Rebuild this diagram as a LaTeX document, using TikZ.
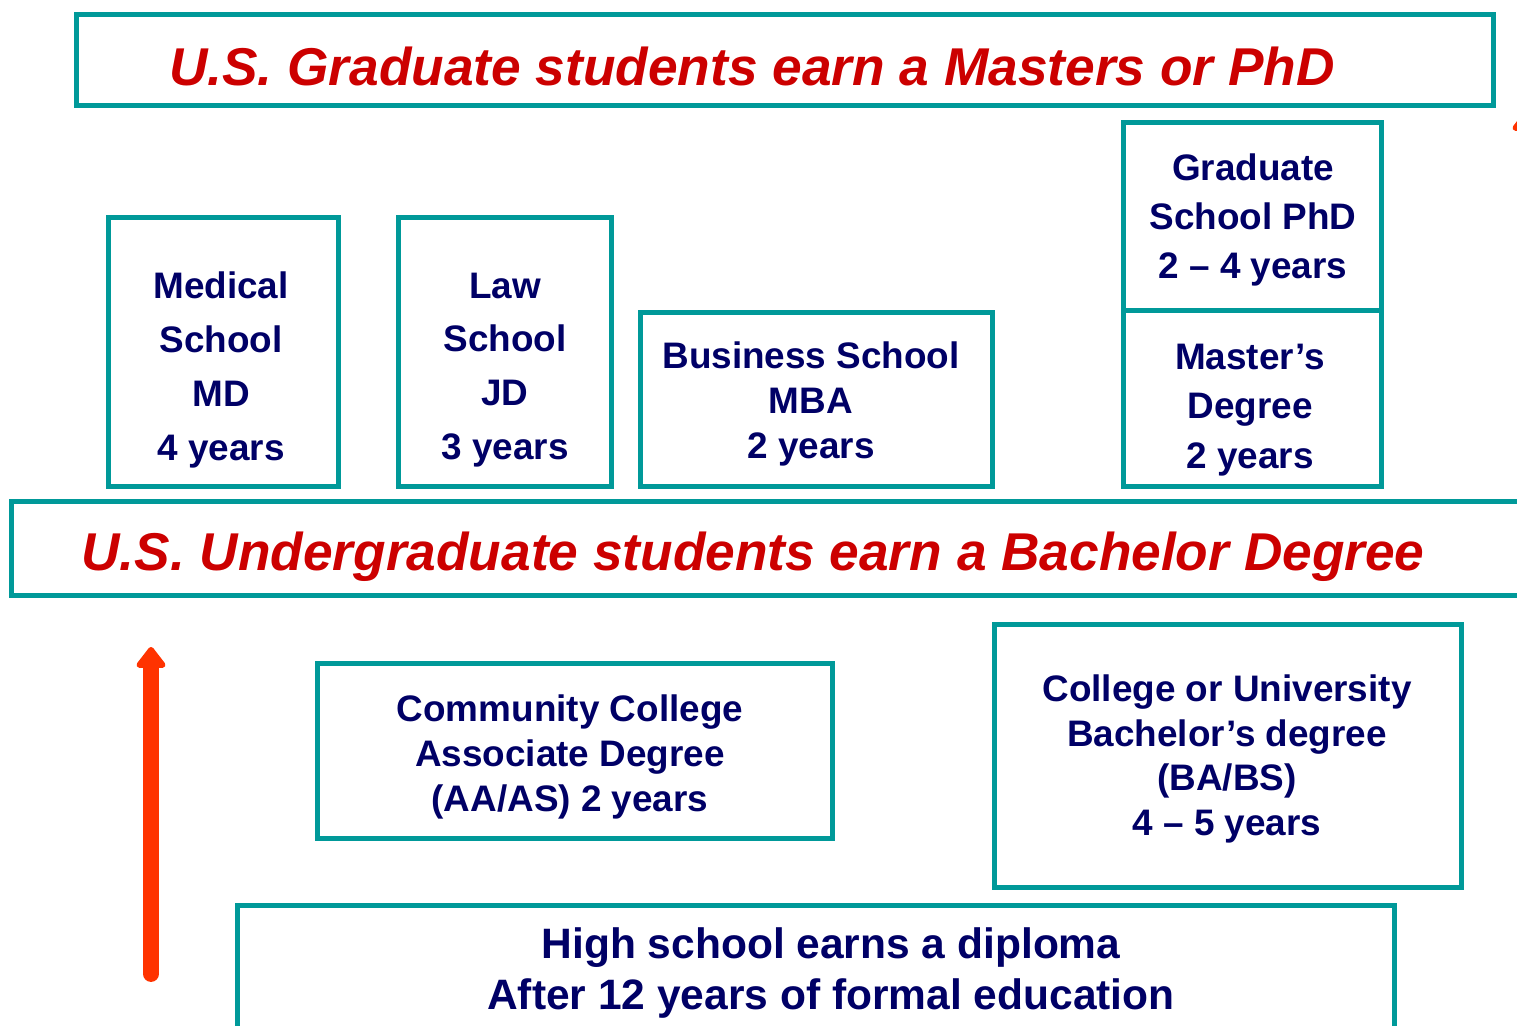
\documentclass[tikz,border=0pt]{standalone}
\usepackage{fontspec}
\setmainfont{Liberation Sans}
\usetikzlibrary{arrows.meta}
\definecolor{boxteal}{HTML}{009999}
\definecolor{titlered}{HTML}{CC0000}
\definecolor{textnavy}{HTML}{000066}
\definecolor{arroworange}{HTML}{FF3300}
\tikzset{
  frame/.style={draw=boxteal, line width=2.85pt},
  degtext/.style={text=textnavy, align=center, inner sep=0pt, font=\bfseries\fontsize{21}{25.5}\selectfont},
  widetext/.style={degtext, font=\bfseries\fontsize{21}{30.6}\selectfont},
  titletext/.style={text=titlered, inner sep=0pt, font=\bfseries\itshape\fontsize{30.3}{36}\selectfont},
  uparrow/.style={draw=arroworange, line width=9pt, line cap=round, -{Triangle[width=19pt,length=13pt,round]}}
}

\begin{document}
\begin{tikzpicture}[x=0.02cm, y=-0.02cm]
		%%%%% START %%%%%
		\clip (0, 0) rectangle (1517, 1026);
		
		% graduate level
		\draw[frame] (76.5, 14.5) rectangle (1493.5, 106);
		\node[titletext] (gradtitle) at (752, 66) {U.S. Graduate students earn a Masters or PhD};
		
		\draw[frame] (108.5, 217.5) rectangle (338.5, 486.5);
		\node[widetext] (med) at (221, 370) {Medical\\School\\MD\\4 years};
		\draw[frame] (398.5, 217.5) rectangle (611.5, 486.5);
		\node[widetext] (law) at (505, 370) {Law\\School\\JD\\3 years};
		\draw[frame] (640.5, 312.5) rectangle (992.5, 486.5);
		\node[degtext] (mba) at (811, 404) {Business School\\MBA\\2 years};
		
		\draw[frame] (1123.5, 122.5) rectangle (1381.5, 311);
		\node[degtext, font=\bfseries\fontsize{21}{27.8}\selectfont] (phd) at (1253, 220) {Graduate\\School PhD\\2 -- 4 years};
		\draw[frame] (1123.5, 311) rectangle (1381.5, 486.5);
		\node[degtext, font=\bfseries\fontsize{21}{28.3}\selectfont] (mast) at (1250, 410) {Master’s\\Degree\\2 years};
		
		% undergraduate level
		\draw[frame] (11.5, 501.5) rectangle (1560, 595.5);
		\node[titletext] (ugtitle) at (753, 557) {U.S. Undergraduate students earn a Bachelor Degree};
		
		\draw[frame] (317.5, 663.5) rectangle (832.5, 838.5);
		\node[degtext] (cc) at (570, 757) {Community College\\Associate Degree\\(AA/AS) 2 years};
		\draw[frame] (994.5, 624.5) rectangle (1461.5, 887.5);
		\node[degtext] (univ) at (1227, 759) {College or University\\Bachelor’s degree\\(BA/BS)\\4 -- 5 years};
		
		% high school
		\draw[frame] (237.5, 905.5) rectangle (1394.5, 1060);
		\node[degtext, font=\bfseries\fontsize{24.2}{28.9}\selectfont] (hs) at (831, 973) {High school earns a diploma\\After 12 years of formal education};
		
		% arrows
		\coordinate (lowbot) at (151, 974);
		\coordinate (lowtop) at (151, 647);
		\draw[uparrow] (lowbot) -- (lowtop);
		\coordinate (highbot) at (1527, 470);
		\coordinate (hightop) at (1527, 110);
		\draw[uparrow] (highbot) -- (hightop);
		
		%%%%% END %%%%%
	\end{tikzpicture}
\end{document}
